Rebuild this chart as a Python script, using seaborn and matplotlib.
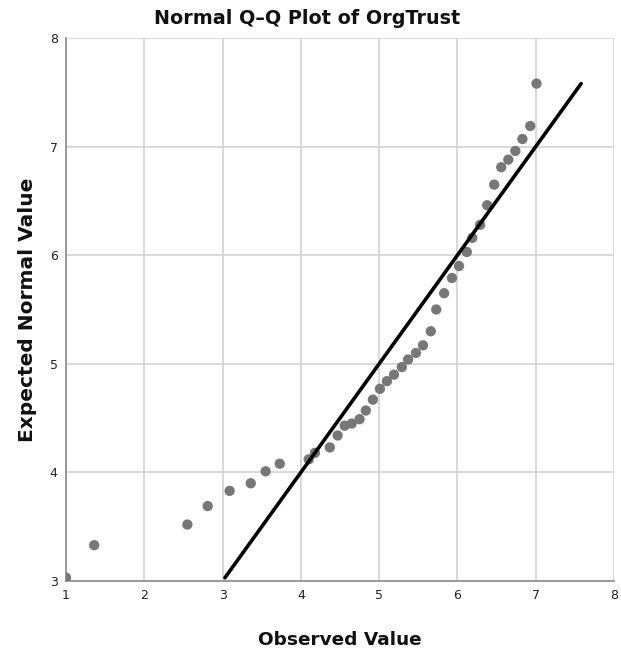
import matplotlib
matplotlib.use('Agg')
import matplotlib.pyplot as plt
import seaborn as sns
import pandas as pd

observed = [1.00, 1.36, 2.55, 2.81, 3.09, 3.36, 3.55, 3.73, 4.10, 4.18,
            4.37, 4.47, 4.56, 4.65, 4.75, 4.83, 4.92, 5.01, 5.10, 5.19,
            5.29, 5.37, 5.47, 5.56, 5.66, 5.73, 5.83, 5.93, 6.02, 6.12,
            6.19, 6.29, 6.38, 6.47, 6.56, 6.65, 6.74, 6.83, 6.93, 7.01]
expected = [3.03, 3.33, 3.52, 3.69, 3.83, 3.90, 4.01, 4.08, 4.12, 4.18,
            4.23, 4.34, 4.43, 4.45, 4.49, 4.57, 4.67, 4.77, 4.84, 4.90,
            4.97, 5.04, 5.10, 5.17, 5.30, 5.50, 5.65, 5.79, 5.90, 6.03,
            6.16, 6.28, 6.46, 6.65, 6.81, 6.88, 6.96, 7.07, 7.19, 7.58]
x_ticks = [1, 2, 3, 4, 5, 6, 7, 8]
y_ticks = [3, 4, 5, 6, 7, 8]

df = pd.DataFrame({'observed': observed, 'expected': expected})
# reference line y = x over the range of expected values
lo, hi = min(expected), max(expected)
line_df = pd.DataFrame({'x': [lo, hi], 'y': [lo, hi]})

sns.set_style('white')
plt.rcParams['font.family'] = ['DejaVu Sans']

fig = plt.figure(figsize=(6.21, 6.52), dpi=100)
ax = fig.add_axes([0.1063, 0.1089, 0.8824, 0.8328])

sns.scatterplot(data=df, x='observed', y='expected', ax=ax,
                color='#777777', s=55, edgecolor='none', zorder=3)
sns.lineplot(data=line_df, x='x', y='y', ax=ax, color='black',
             linewidth=2.6, zorder=4)

ax.set_xlim(1, 8)
ax.set_ylim(3, 8)
ax.set_xticks(x_ticks)
ax.set_yticks(y_ticks)
ax.grid(True, color='#d6d6d6', linewidth=1.3)
ax.set_axisbelow(True)
for side in ['top', 'right']:
    ax.spines[side].set_visible(False)
for side in ['left', 'bottom']:
    ax.spines[side].set_color('#8c8c8c')
    ax.spines[side].set_linewidth(1.2)
ax.tick_params(length=0, labelsize=9, colors='#222222', pad=6)

# title is centred on the figure, not on the axes
fig.text(0.495, 0.971, 'Normal Q–Q Plot of OrgTrust', fontsize=13.8,
         fontweight='bold', color='#111111', ha='center', va='center')
ax.set_xlabel('Observed Value', fontsize=13.3, fontweight='bold',
              color='#111111', labelpad=21)
ax.set_ylabel('Expected Normal Value', fontsize=14.5, fontweight='bold',
              color='#111111', labelpad=9)

fig.savefig('out.png', dpi=100)
